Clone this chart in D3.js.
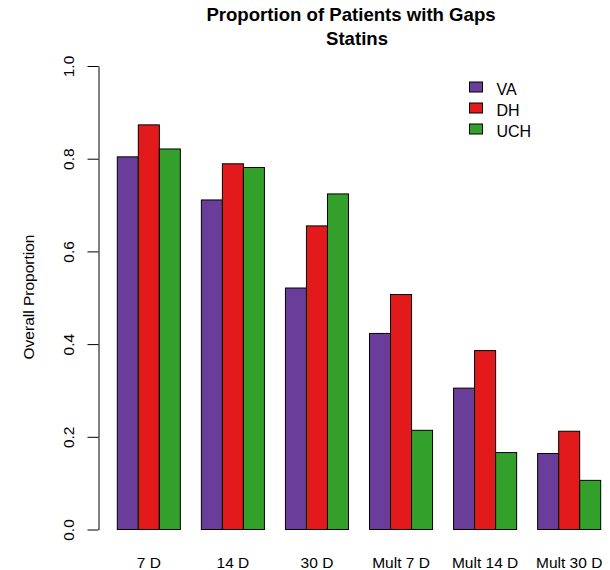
<!DOCTYPE html>
<html>
<head>
<meta charset="utf-8">
<script src="https://cdn.jsdelivr.net/npm/d3@7"></script>
<style>
  body { margin: 0; background: #fff; }
  svg { display: block; font-family: "Liberation Sans", Arial, sans-serif; }
</style>
</head>
<body>
<div id="chart"></div>
<script>
// Data
const categories = ["7 D", "14 D", "30 D", "Mult 7 D", "Mult 14 D", "Mult 30 D"];
const seriesNames = ["VA", "DH", "UCH"];
const vaValues  = [0.804, 0.711, 0.521, 0.423, 0.305, 0.164];
const dhValues  = [0.873, 0.789, 0.655, 0.507, 0.386, 0.212];
const uchValues = [0.821, 0.781, 0.724, 0.214, 0.166, 0.106];
const yTicks = [0, 0.2, 0.4, 0.6, 0.8, 1.0];
const colors = ["#6a3d9a", "#e31a1c", "#33a02c"];

const width = 610, height = 570;

const svg = d3.select("#chart").append("svg")
    .attr("width", width)
    .attr("height", height);

// Build rows for each group
const seriesValues = [vaValues, dhValues, uchValues];
const rows = categories.map((c, i) => ({
    category: c,
    values: seriesNames.map((s, j) => ({ series: s, value: seriesValues[j][i] }))
}));

// Scales
const x0 = d3.scaleBand()
    .domain(categories)
    .range([117.3, 600.7])
    .paddingInner(0.25)
    .paddingOuter(0);

const x1 = d3.scaleBand()
    .domain(seriesNames)
    .range([0, x0.bandwidth()]);

const y = d3.scaleLinear()
    .domain([0, 1])
    .range([529.5, 66]);

const color = d3.scaleOrdinal().domain(seriesNames).range(colors);

// Bars
const groups = svg.append("g")
    .selectAll("g")
    .data(rows)
    .join("g")
    .attr("transform", d => `translate(${x0(d.category)},0)`);

groups.selectAll("rect")
    .data(d => d.values)
    .join("rect")
    .attr("x", d => x1(d.series))
    .attr("y", d => y(d.value))
    .attr("width", x1.bandwidth())
    .attr("height", d => y(0) - y(d.value))
    .attr("fill", d => color(d.series))
    .attr("stroke", "#000")
    .attr("stroke-width", 1);

// Y axis (R style, rotated labels)
const yAxis = svg.append("g")
    .attr("transform", "translate(98.5,0)")
    .call(d3.axisLeft(y).tickValues(yTicks).tickFormat(d3.format(".1f")).tickSize(11).tickSizeOuter(0));
yAxis.select(".domain").attr("stroke", "#000").attr("stroke-width", 1);
yAxis.selectAll(".tick line").attr("stroke", "#000");
yAxis.selectAll(".tick text")
    .attr("x", null).attr("dy", null)
    .attr("transform", "translate(-24.5,0) rotate(-90)")
    .attr("text-anchor", "middle")
    .attr("font-size", "15.5px")
    .attr("font-family", "Liberation Sans, Arial, sans-serif")
    .attr("fill", "#000");

// Category labels
svg.append("g")
    .selectAll("text")
    .data(categories)
    .join("text")
    .attr("x", d => x0(d) + x0.bandwidth() / 2)
    .attr("y", 568)
    .attr("text-anchor", "middle")
    .attr("font-size", "15.5px")
    .text(d => d);

// Y axis title
svg.append("text")
    .attr("transform", "translate(34,297) rotate(-90)")
    .attr("text-anchor", "middle")
    .attr("font-size", "15.5px")
    .text("Overall Proportion");

// Title
svg.append("text")
    .attr("x", 351)
    .attr("y", 21)
    .attr("text-anchor", "middle")
    .attr("font-size", "18.6px")
    .attr("font-weight", "bold")
    .text("Proportion of Patients with Gaps");
svg.append("text")
    .attr("x", 357)
    .attr("y", 45)
    .attr("text-anchor", "middle")
    .attr("font-size", "18.6px")
    .attr("font-weight", "bold")
    .text("Statins");

// Legend
const legend = svg.append("g").attr("transform", "translate(469.5,82)");
seriesNames.forEach((s, i) => {
    legend.append("rect")
        .attr("x", 0)
        .attr("y", i * 21)
        .attr("width", 13)
        .attr("height", 10)
        .attr("fill", color(s))
        .attr("stroke", "#000");
    legend.append("text")
        .attr("x", 27)
        .attr("y", i * 21 + 13)
        .attr("font-size", "16px")
        .text(s);
});
</script>
</body>
</html>
